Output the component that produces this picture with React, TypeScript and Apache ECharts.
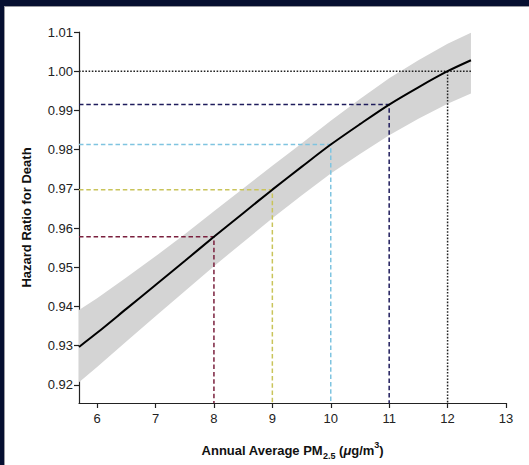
import React, { useEffect, useRef } from "react";
import * as echarts from "echarts";

const xs = [5.69, 6, 6.5, 7, 7.5, 8, 8.5, 9, 9.5, 10, 10.5, 11, 11.5, 12, 12.4];
const hr = [0.9297, 0.9333, 0.9394, 0.9455, 0.9516, 0.9578, 0.9638, 0.9698, 0.9756, 0.9813, 0.9865, 0.9915, 0.9959, 1.0, 1.0028];
const upper = [0.9391, 0.9421, 0.9474, 0.9528, 0.9584, 0.9643, 0.9701, 0.9759, 0.9816, 0.9874, 0.9929, 0.9982, 1.0028, 1.007, 1.0098];
const lower = [0.9207, 0.9246, 0.9311, 0.9375, 0.9439, 0.9503, 0.9564, 0.9625, 0.9683, 0.9739, 0.9789, 0.9837, 0.9879, 0.9917, 0.9943];

const refX = [8, 9, 10, 11, 12];
const refY = [0.9578, 0.9698, 0.9813, 0.9915, 1.0];
const refColors = ["#7a1f3d", "#c9c45a", "#7fc4e0", "#1f1c5c", "#222222"];

const xTicks = [6, 7, 8, 9, 10, 11, 12, 13];
const yTicks = [0.92, 0.93, 0.94, 0.95, 0.96, 0.97, 0.98, 0.99, 1.0, 1.01];

const X_MIN = 5.69;
const X_MAX = 13;
const Y_MIN = 0.9154;
const Y_MAX = 1.01;

export default function App() {
  const ref = useRef<HTMLDivElement>(null);
  useEffect(() => {
    if (!ref.current) return;
    const chart = echarts.init(ref.current, null, { renderer: "svg" });
    const font = "Liberation Sans";

    const bandPoly = xs.map((x, i) => [x, upper[i]]).concat(
      xs.map((x, i) => [x, lower[i]]).reverse()
    );

    const refSeries: any[] = refX.map((x, i) => {
      const last = i === refX.length - 1;
      const pts = last
        ? [[X_MIN, refY[i]], [xs[xs.length - 1], refY[i]], null, [x, refY[i]], [x, Y_MIN]]
        : [[X_MIN, refY[i]], [x, refY[i]], [x, Y_MIN]];
      return {
        type: "line",
        data: pts.map((p) => (p ? p : ["-", "-"])),
        connectNulls: false,
        symbol: "none",
        silent: true,
        z: 3,
        lineStyle: {
          color: refColors[i],
          width: 1.5,
          type: last ? [1.6, 1.6] : [4.5, 2.8],
        },
      };
    });

    chart.setOption({
      animation: false,
      backgroundColor: "#060f30",
      graphic: [
        {
          type: "rect",
          shape: { x: 4, y: 6, width: 530, height: 470 },
          style: { fill: "#9a9aa0" },
          z: -10,
        },
        {
          type: "rect",
          shape: { x: 5, y: 7, width: 530, height: 470 },
          style: { fill: "#ffffff" },
          z: -10,
        },
      ],
      grid: { left: 79, right: 23, top: 32, bottom: 61 },
      xAxis: {
        type: "value",
        min: X_MIN,
        max: X_MAX,
        splitLine: { show: false },
        axisLine: { lineStyle: { color: "#222", width: 1.2 } },
        axisTick: { show: true, length: 5, customValues: xTicks, lineStyle: { color: "#222", width: 1.2 } },
        axisLabel: {
          customValues: xTicks,
          color: "#222",
          fontFamily: font,
          fontSize: 13,
          margin: 9,
        },
        name: "Annual Average PM{sub|2.5} ({it|μ}g/m{sup|3})",
        nameLocation: "middle",
        nameGap: 37,
        nameTextStyle: {
          fontFamily: font,
          fontSize: 13,
          fontWeight: "bold",
          color: "#111",
          lineHeight: 20,
          rich: {
            sub: { fontFamily: font, fontSize: 9, fontWeight: "bold", color: "#111", verticalAlign: "bottom", lineHeight: 10 },
            sup: { fontFamily: font, fontSize: 9, fontWeight: "bold", color: "#111", verticalAlign: "top", lineHeight: 11 },
            it: { fontFamily: font, fontSize: 13, fontWeight: "bold", fontStyle: "italic", color: "#111", lineHeight: 20 },
          },
        },
      },
      yAxis: {
        type: "value",
        min: Y_MIN,
        max: Y_MAX,
        splitLine: { show: false },
        axisLine: { show: true, lineStyle: { color: "#222", width: 1.2 } },
        axisTick: { show: true, length: 5, customValues: yTicks, lineStyle: { color: "#222", width: 1.2 } },
        axisLabel: {
          customValues: yTicks,
          color: "#222",
          fontFamily: font,
          fontSize: 13,
          margin: 6,
          formatter: (v: number) => v.toFixed(2),
        },
        name: "Hazard Ratio for Death",
        nameLocation: "middle",
        nameGap: 46,
        nameTextStyle: { fontFamily: font, fontSize: 13, fontWeight: "bold", color: "#111" },
      },
      series: [
        {
          type: "custom",
          silent: true,
          z: 1,
          data: [0],
          renderItem: (params: any, api: any) => {
            const points = bandPoly.map((p) => api.coord(p));
            return {
              type: "polygon",
              shape: { points },
              style: { fill: "#d4d4d4", stroke: "none" },
            };
          },
        },
        ...refSeries,
        {
          type: "line",
          data: xs.map((x, i) => [x, hr[i]]),
          symbol: "none",
          smooth: 0.3,
          silent: true,
          z: 5,
          lineStyle: { color: "#000", width: 2 },
        },
      ],
    });
    return () => chart.dispose();
  }, []);
  return (
    <div
      ref={ref}
      style={{ position: "fixed", left: 0, top: 0, width: 529, height: 465 }}
    />
  );
}
